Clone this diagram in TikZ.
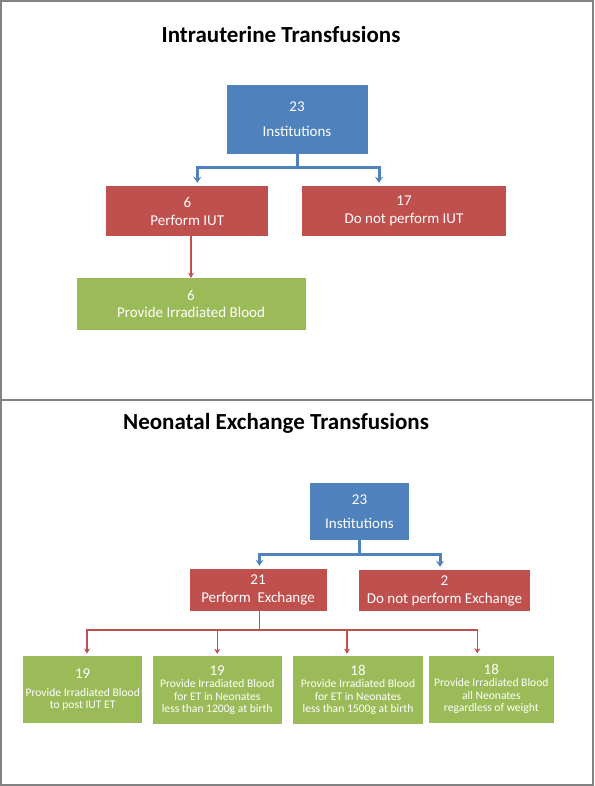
\documentclass[tikz,border=0pt]{standalone}
\usepackage{fontspec}
\setmainfont{Carlito}
\usetikzlibrary{arrows.meta}
\definecolor{officeblue}{RGB}{79, 129, 189}
\definecolor{officered}{RGB}{192, 80, 77}
\definecolor{officegreen}{RGB}{155, 187, 89}
\definecolor{framegray}{RGB}{130, 130, 130}
\begin{document}
\begin{tikzpicture}[x=1pt, y=-1pt,
        every node/.style={inner sep=0pt, align=center, text=white},
        heading/.style={text=black, font=\fontsize{23}{27}\selectfont\bfseries},
        bluebox/.style={fill=officeblue, font=\fontsize{15}{18}\selectfont},
        redbox/.style={fill=officered, font=\fontsize{15}{18}\selectfont},
        greenbox/.style={fill=officegreen, font=\fontsize{15}{17.5}\selectfont},
        smallbox/.style={fill=officegreen, font=\fontsize{11.6}{12.4}\selectfont},
        bluelink/.style={draw=officeblue, line width=3pt},
        redlink/.style={draw=officered, line width=1.4pt}
      ]
        \useasboundingbox (0,0) rectangle (594,786);
        \fill[white] (0,0) rectangle (594,786);
        \draw[framegray, line width=1.2pt] (1,1) rectangle (593,785);
        \draw[framegray, line width=1.2pt] (1,400) -- (593,400);

        % intrauterine transfusions
        \node[heading] (titleiut) at (281,35) {Intrauterine Transfusions};
        \node[bluebox, minimum width=141, minimum height=69] (inst1) at (297,119.5) {23\\[7pt]Institutions};
        \node[redbox, minimum width=162, minimum height=50] (perf1) at (187.3,211) {6\\Perform IUT};
        \node[redbox, minimum width=204, minimum height=50] (notperf1) at (404,211) {17\\Do not perform IUT};
        \node[greenbox, minimum width=229, minimum height=52] (irr1) at (191,304) {6\\Provide Irradiated Blood};

        \coordinate (split1) at (297,168);
        \draw[bluelink] (inst1.south) -- (split1);
        \draw[bluelink, -{Stealth[length=6pt, width=8pt]}] (split1) -| ([xshift=10pt, yshift=3pt]perf1.north);
        \draw[bluelink, -{Stealth[length=6pt, width=8pt]}] (split1) -| ([xshift=-25pt, yshift=3pt]notperf1.north);
        \draw[redlink, -{Stealth[length=5pt, width=6pt]}] (perf1.south -| irr1.north) -- (irr1.north);

        % neonatal exchange transfusions
        \node[heading] (titleet) at (276,423) {Neonatal Exchange Transfusions};
        \node[bluebox, minimum width=99, minimum height=57] (inst2) at (359.5,511.3) {23\\[6pt]Institutions};
        \node[redbox, minimum width=137, minimum height=42] (perf2) at (258,590) {21\\Perform\ \ Exchange};
        \node[redbox, minimum width=171, minimum height=41] (notperf2) at (444.5,590.5) {2\\Do not perform Exchange};

        \node[smallbox, minimum width=119.4, minimum height=67.6] (g1) at (82.7,689.5) {{\fontsize{15}{17}\selectfont 19}\\[6pt]Provide Irradiated Blood\\to post IUT ET};
        \node[smallbox, minimum width=129, minimum height=68] (g2) at (217.2,690) {{\fontsize{15}{17}\selectfont 19}\\Provide Irradiated Blood\\for ET in Neonates\\less than 1200g at birth};
        \node[smallbox, minimum width=130, minimum height=68] (g3) at (358,690) {{\fontsize{15}{17}\selectfont 18}\\Provide Irradiated Blood\\for ET in Neonates\\less than 1500g at birth};
        \node[smallbox, minimum width=125, minimum height=67] (g4) at (491.3,689) {{\fontsize{15}{17}\selectfont 18}\\Provide Irradiated Blood\\all Neonates\\regardless of weight};

        \coordinate (split2) at (359.5,554);
        \draw[bluelink] (inst2.south) -- (split2);
        \draw[bluelink, -{Stealth[length=6pt, width=8pt]}] (split2) -| ([xshift=1.5pt, yshift=3pt]perf2.north);
        \draw[bluelink, -{Stealth[length=6pt, width=8pt]}] (split2) -| ([xshift=-4.5pt, yshift=3pt]notperf2.north);

        \coordinate (split3) at (259.5,630);
        \draw[redlink] ([xshift=1.5pt]perf2.south) -- (split3);
        \draw[redlink, -{Stealth[length=5pt, width=6pt]}] (split3) -| ([xshift=4.3pt, yshift=2pt]g1.north);
        \draw[redlink, -{Stealth[length=5pt, width=6pt]}] (split3) -| ([yshift=2pt]g2.north);
        \draw[redlink, -{Stealth[length=5pt, width=6pt]}] (split3) -| ([xshift=-11pt, yshift=2pt]g3.north);
        \draw[redlink, -{Stealth[length=5pt, width=6pt]}] (split3) -| ([xshift=-14pt, yshift=2pt]g4.north);
      \end{tikzpicture}
\end{document}
